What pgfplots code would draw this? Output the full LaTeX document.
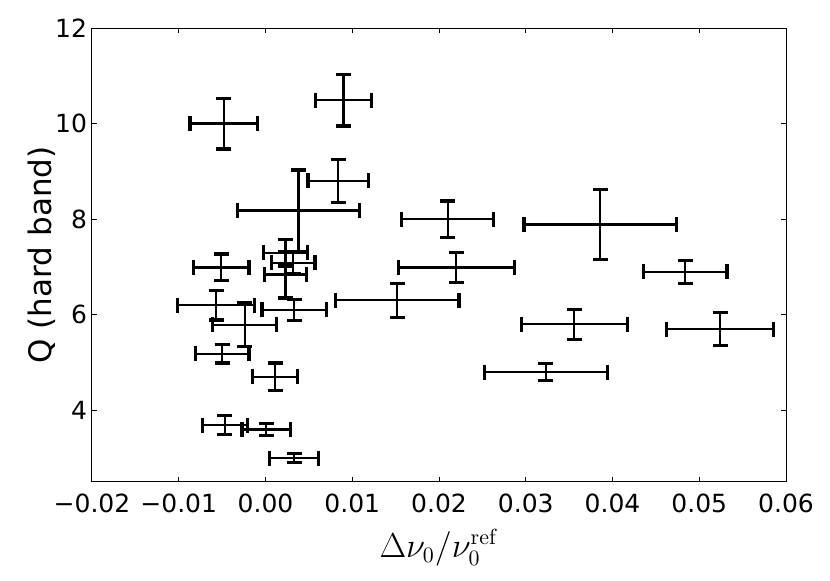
\documentclass[border=0pt]{standalone}
\usepackage[no-math]{fontspec}
\setmainfont{DejaVu Sans}
\usepackage{pgfplots}
\usepackage{pgfplotstable}
\pgfplotsset{compat=1.18}
\pgfplotstableread{
x y ex ey
-0.0048 10.00 0.0039 0.53
0.0090 10.49 0.0032 0.54
0.0084 8.80 0.0035 0.45
0.0038 8.18 0.0070 0.85
0.0023 7.30 0.0025 0.28
0.0032 7.09 0.0025 0.22
0.0023 6.84 0.0024 0.49
0.0033 6.10 0.0037 0.22
-0.0051 6.99 0.0032 0.28
-0.0057 6.20 0.0044 0.31
-0.0024 5.79 0.0037 0.46
-0.0050 5.18 0.0031 0.19
0.0011 4.70 0.0026 0.29
-0.0047 3.69 0.0026 0.20
0.0001 3.60 0.0028 0.12
0.0033 3.00 0.0028 0.09
0.0210 8.00 0.0053 0.38
0.0220 6.99 0.0067 0.32
0.0152 6.30 0.0071 0.36
0.0386 7.89 0.0088 0.73
0.0484 6.90 0.0048 0.24
0.0356 5.80 0.0061 0.31
0.0524 5.70 0.0062 0.35
0.0323 4.80 0.0071 0.18
}\data
\begin{document}
\begin{tikzpicture}
\begin{axis}[
  name=ax,
  scale only axis,
  width=347pt, height=227pt,
  xmin=-0.02, xmax=0.06, ymin=2.5, ymax=12,
  xtick={-0.02,-0.01,0,0.01,0.02,0.03,0.04,0.05,0.06},
  xticklabels={−0.02,−0.01,0.00,0.01,0.02,0.03,0.04,0.05,0.06},
  ytick={4,6,8,10,12},
  yticklabels={4,6,8,10,12},
  scaled x ticks=false,
  tick align=inside,
  major tick length=2.5pt,
  every tick/.style={black, line width=0.5pt},
  axis line style={black, line width=0.5pt},
  tick label style={font=\fontsize{12.5}{15}\selectfont},
  xticklabel style={yshift=-2.3pt},
  yticklabel style={xshift=1pt},
  xlabel={$\Delta\nu_0/\nu_0^{\mathrm{ref}}$},
  ylabel={Q (hard band)},
  xlabel style={font=\fontsize{16}{19}\selectfont, yshift=-1.5pt},
  ylabel style={font=\fontsize{15.5}{18}\selectfont},
  ylabel shift=-7pt,
]
\addplot[draw=none, mark=none,
  error bars/.cd, x dir=both, x explicit, y dir=both, y explicit,
  error bar style={draw=black, line width=1.1pt},
  error mark options={draw=black, rotate=90, mark size=3.75pt, line width=1.6pt}]
  table[x=x, y=y, x error=ex, y error=ey] {\data};
\end{axis}
\path (ax.south west) ++(-46pt,-49.5pt);
\path (ax.north east) ++(22pt,14pt);
\end{tikzpicture}
\end{document}
